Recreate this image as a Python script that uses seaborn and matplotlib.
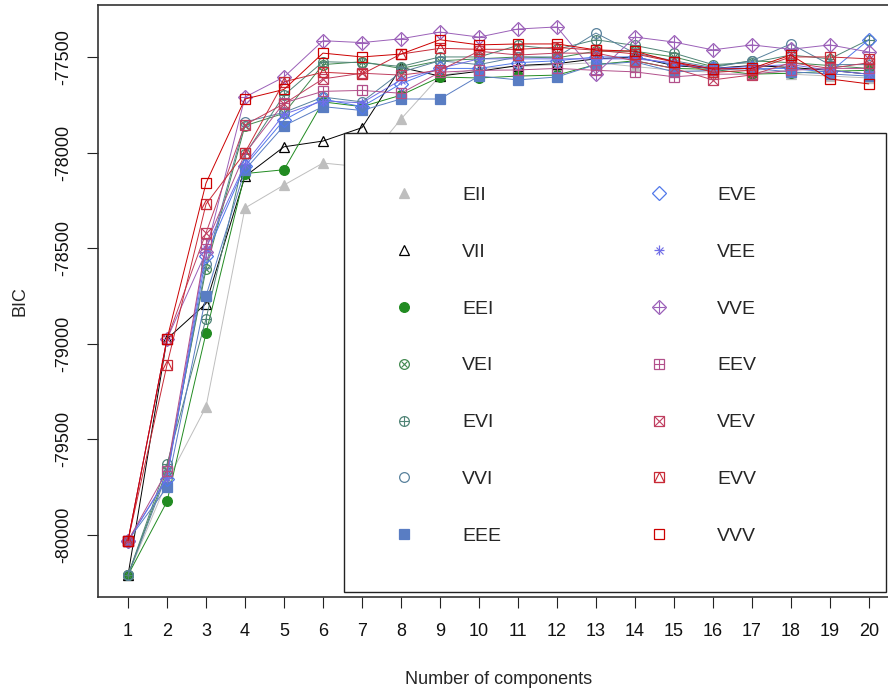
import numpy as np
import pandas as pd
import matplotlib
matplotlib.use('Agg')
import matplotlib.pyplot as plt
from matplotlib.lines import Line2D
from matplotlib.patches import Rectangle
import seaborn as sns

components = list(range(1, 21))

EII = [-80210, -79720, -79330, -78290, -78170, -78055, -78075, -77825, -77600, -77560,
       -77550, -77540, -77530, -77550, -77570, -77580, -77570, -77590, -77600, -77610]
VII = [-80210, -78975, -78790, -78125, -77970, -77940, -77870, -77555, -77600, -77575,
       -77545, -77535, -77510, -77500, -77545, -77560, -77545, -77555, -77570, -77590]
EEI = [-80210, -79825, -78945, -78110, -78090, -77735, -77760, -77700, -77605, -77610,
       -77600, -77595, -77540, -77520, -77560, -77565, -77590, -77585, -77575, -77570]
VEI = [-80210, -79660, -78610, -77860, -77795, -77540, -77525, -77560, -77520, -77510,
       -77500, -77505, -77470, -77470, -77500, -77550, -77520, -77530, -77545, -77560]
EVI = [-80210, -79630, -78870, -78010, -77700, -77525, -77530, -77550, -77500, -77500,
       -77440, -77460, -77410, -77440, -77480, -77540, -77530, -77490, -77510, -77410]
VVI = [-80210, -79680, -78585, -77840, -77790, -77710, -77735, -77580, -77520, -77540,
       -77500, -77500, -77375, -77480, -77520, -77555, -77520, -77432, -77540, -77540]
EEE = [-80030, -79750, -78750, -78090, -77860, -77760, -77780, -77720, -77720, -77600,
       -77620, -77605, -77540, -77526, -77578, -77570, -77560, -77578, -77589, -77600]
EVE = [-80030, -79705, -78540, -78070, -77830, -77720, -77760, -77640, -77560, -77560,
       -77530, -77520, -77500, -77500, -77540, -77560, -77560, -77560, -77580, -77410]
VEE = [-80030, -79700, -78500, -78060, -77800, -77730, -77740, -77620, -77560, -77510,
       -77510, -77510, -77510, -77510, -77530, -77560, -77550, -77540, -77570, -77590]
VVE = [-80030, -78975, -78520, -77710, -77605, -77415, -77425, -77405, -77370, -77396,
       -77354, -77343, -77589, -77396, -77422, -77463, -77437, -77460, -77437, -77474]
EEV = [-80030, -79665, -78480, -78005, -77740, -77680, -77675, -77690, -77580, -77570,
       -77568, -77560, -77570, -77578, -77604, -77590, -77590, -77570, -77560, -77560]
VEV = [-80030, -78975, -78420, -77855, -77745, -77615, -77585, -77595, -77570, -77470,
       -77490, -77480, -77480, -77520, -77560, -77620, -77594, -77530, -77560, -77530]
EVV = [-80030, -79110, -78270, -78000, -77630, -77580, -77590, -77485, -77455, -77460,
       -77460, -77450, -77465, -77484, -77526, -77580, -77570, -77500, -77500, -77510]
VVV = [-80030, -78975, -78160, -77720, -77670, -77480, -77500, -77485, -77410, -77437,
       -77432, -77432, -77463, -77470, -77526, -77563, -77560, -77490, -77615, -77641]

models = ['EII', 'VII', 'EEI', 'VEI', 'EVI', 'VVI', 'EEE',
          'EVE', 'VEE', 'VVE', 'EEV', 'VEV', 'EVV', 'VVV']
values = [EII, VII, EEI, VEI, EVI, VVI, EEE, EVE, VEE, VVE, EEV, VEV, EVV, VVV]

colors = {'EII': '#BEBEBE', 'VII': '#000000', 'EEI': '#218B21', 'VEI': '#41884F',
          'EVI': '#508476', 'VVI': '#58819C', 'EEE': '#597DC3', 'EVE': '#5178EA',
          'VEE': '#716EE7', 'VVE': '#9B60B8', 'EEV': '#B2508B', 'VEV': '#C03F60',
          'EVV': '#C82A36', 'VVV': '#CC0000'}

# (marker, filled, overlay marker, overlay scale) - mimics R pch symbols
symbols = {'EII': ('^', True, None, 1), 'VII': ('^', False, None, 1),
           'EEI': ('o', True, None, 1), 'VEI': ('o', False, 'x', 0.7),
           'EVI': ('o', False, '+', 1), 'VVI': ('o', False, None, 1),
           'EEE': ('s', True, None, 1), 'EVE': ('D', False, None, 1),
           'VEE': ('+', False, 'x', 0.72), 'VVE': ('D', False, '+', 1.3),
           'EEV': ('s', False, '+', 1), 'VEV': ('s', False, 'x', 1),
           'EVV': ('s', False, '^', 1), 'VVV': ('s', False, None, 1)}

df = pd.DataFrame({
    'k': np.tile(components, len(models)),
    'model': np.repeat(models, len(components)),
    'BIC': np.concatenate(values),
})

sns.set_style('white')
plt.rcParams['font.family'] = ['Liberation Sans', 'DejaVu Sans']

fig = plt.figure(figsize=(8.88, 6.94), dpi=100)
ax = fig.add_axes([98.4 / 888, 97 / 694, 800 / 888, 592 / 694])

ms = 7
handles = []
for m in models:
    sub = df[df['model'] == m]
    mk, filled, over, sc = symbols[m]
    c = colors[m]
    sns.lineplot(data=sub, x='k', y='BIC', ax=ax, color=c, lw=0.7,
                 marker=mk, markersize=ms, markeredgewidth=0.9,
                 markerfacecolor=c if filled else 'none', markeredgecolor=c,
                 legend=False, zorder=2)
    h = [Line2D([], [], linestyle='none', marker=mk, markersize=ms,
                markeredgewidth=0.9, markerfacecolor=c if filled else 'none',
                markeredgecolor=c)]
    if over is not None:
        sns.lineplot(data=sub, x='k', y='BIC', ax=ax, color=c, linestyle='none',
                     marker=over, markersize=ms * sc, markeredgewidth=0.8,
                     markerfacecolor='none', markeredgecolor=c,
                     legend=False, zorder=2)
        h.append(Line2D([], [], linestyle='none', marker=over,
                        markersize=ms * sc, markeredgewidth=0.8,
                        markerfacecolor='none', markeredgecolor=c))
    handles.append(tuple(h))

# R style axis ranges (4% extension)
ymin, ymax = df['BIC'].min(), df['BIC'].max()
r = ymax - ymin
ax.set_ylim(ymin - 0.04 * r, ymax + 0.04 * r)
ax.set_xlim(1 - 0.04 * 19, 20 + 0.04 * 19)

ax.set_xticks(components)
ax.set_yticks([-80000, -79500, -79000, -78500, -78000, -77500])
ax.set_yticklabels(['-80000', '-79500', '-79000', '-78500', '-78000', '-77500'])
ax.tick_params(axis='both', direction='out', length=8, width=0.8,
               labelsize=13, pad=11, colors='#222222', labelcolor='#111111',
               bottom=True, left=True)
for lab in ax.get_yticklabels():
    lab.set_rotation(90)
    lab.set_va('center')

for sp in ax.spines.values():
    sp.set_color('#333333')
    sp.set_linewidth(1.2)

ax.set_xlabel('Number of components', fontsize=13, labelpad=22)
ax.set_ylabel('BIC', fontsize=13, labelpad=19)

# legend box
box = Rectangle((0.307, 0.0085), 0.6775, 0.7755, transform=ax.transAxes,
                facecolor='white', edgecolor='#222222', lw=1.0, zorder=3)
ax.add_patch(box)
leg = ax.legend(handles, models, ncol=2, loc='upper left',
                bbox_to_anchor=(0.3695, 0.694), frameon=False, fontsize=14,
                borderpad=0, handlelength=1.0, handletextpad=2.5,
                columnspacing=7.6, labelspacing=2.02, borderaxespad=0)
leg.set_zorder(5)

fig.savefig('out.png', dpi=100)
